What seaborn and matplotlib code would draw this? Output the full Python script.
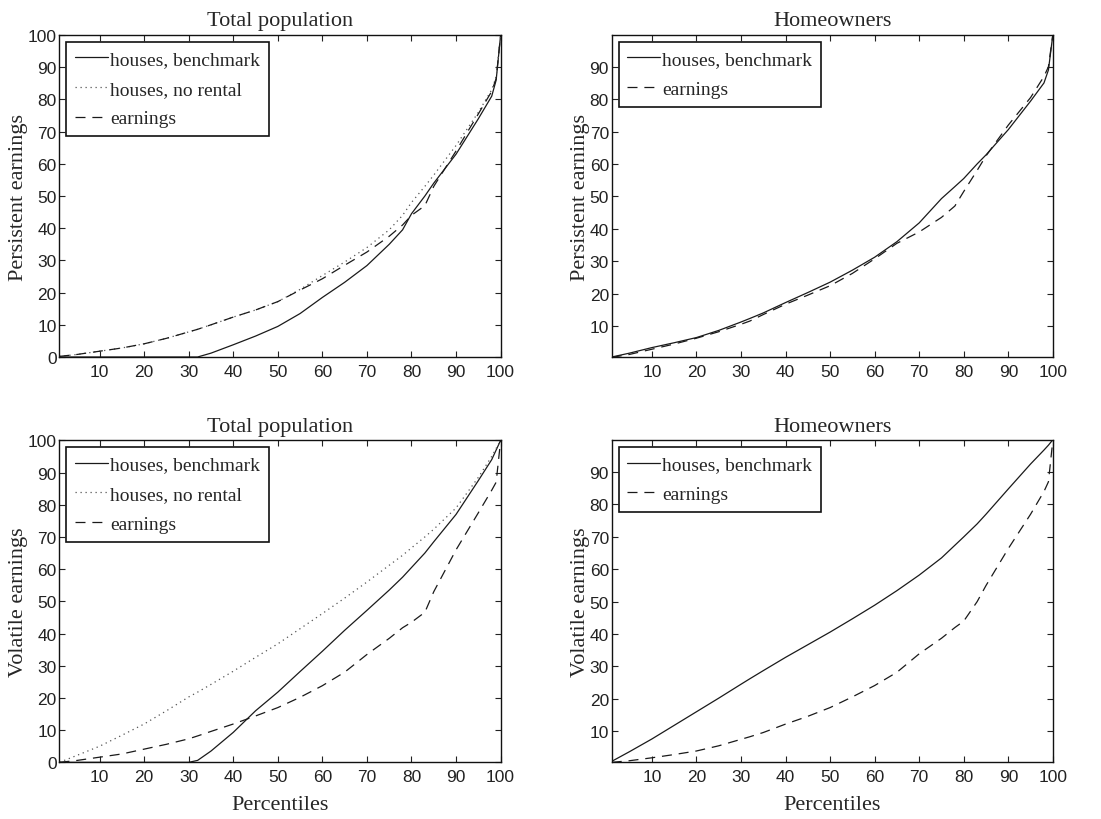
import matplotlib
matplotlib.use("Agg")
import matplotlib.pyplot as plt
import seaborn as sns

# percentile grid shared by all curves
pct = [1, 5, 10, 15, 20, 25, 30, 32, 35, 40, 45, 50, 55, 60, 65, 70,
       75, 78, 80, 83, 85, 90, 95, 98, 99, 100]

# Total population, persistent earnings
tp_pers_bench = [0, 0, 0, 0, 0, 0, 0, 0, 1.2, 3.8, 6.5, 9.5, 13.5, 18.5, 23.2, 28.4,
                 35, 39.5, 44.5, 50, 54, 63, 74, 81, 86, 100]
tp_pers_norent = [0.2, 0.8, 1.8, 2.8, 4.1, 5.8, 7.8, 8.6, 10, 12.4, 14.6, 17.2, 21, 25.3, 29.5, 34,
                  39.5, 44, 48, 53, 56.5, 65.7, 76, 83, 87, 100]
tp_pers_earn = [0.2, 0.8, 1.8, 2.8, 4.1, 5.8, 7.8, 8.6, 10, 12.4, 14.6, 17.2, 20.8, 24.3, 28.5, 32.6,
                37.5, 41, 44, 47, 53, 64, 75.5, 82.5, 86.5, 100]

# Homeowners, persistent earnings
ho_pers_bench = [0.4, 1.6, 3.3, 4.8, 6.4, 8.6, 11.2, 12.3, 14, 17.2, 20.3, 23.5, 27.2, 31.2, 36, 41.8,
                 49.3, 53, 55.5, 60, 62.8, 70.6, 79.4, 85, 89, 100]
ho_pers_earn = [0.3, 1.2, 2.8, 4.4, 6.2, 8.2, 10.5, 11.5, 13.5, 16.7, 19.5, 22.4, 26.2, 30.7, 35.5, 39,
                43.5, 47, 51.5, 58, 62.5, 72, 80.5, 87, 90, 100]

# Total population, volatile earnings
tp_vol_bench = [0, 0, 0, 0, 0, 0, 0, 0.6, 3.5, 9.3, 16, 21.8, 28.2, 34.5, 41, 47.2,
                53.5, 57.5, 60.5, 65, 68.5, 77, 87.5, 94, 97, 100]
tp_vol_norent = [0, 2.2, 5, 8.4, 11.9, 16, 20.3, 21.8, 24.2, 28.3, 32.6, 36.8, 41.5, 46.2, 51, 56,
                 61.2, 64.3, 66.6, 70, 72.4, 79, 88.5, 95, 97.5, 100]
tp_vol_earn = [0, 0.6, 1.6, 2.6, 4.1, 5.6, 7.3, 8.2, 9.6, 11.9, 14.4, 17, 20.2, 23.8, 28, 33.5,
               38.5, 41.8, 43.5, 46.6, 53, 66, 77.5, 84.5, 87, 100]

# Homeowners, volatile earnings
ho_vol_bench = [0.7, 3.7, 7.6, 11.8, 16, 20.2, 24.5, 26.2, 28.7, 32.8, 36.7, 40.6, 44.7, 48.9, 53.4, 58.2,
                63.5, 67.4, 70, 74, 77, 84.8, 92.5, 96.8, 98.3, 100]
ho_vol_earn = [0.4, 0.9, 1.8, 2.8, 3.9, 5.5, 7.5, 8.3, 9.6, 12.2, 14.6, 17.3, 20.6, 24.1, 28.2, 33.9,
               38.7, 42, 44, 50, 55, 66.4, 77, 84, 87, 100]

lbl_bench = "houses, benchmark"
lbl_norent = "houses, no rental"
lbl_earn = "earnings"

xticks = list(range(10, 101, 10))
yticks_full = list(range(0, 101, 10))
yticks_inner = list(range(10, 91, 10))

SERIF = ["Liberation Serif", "DejaVu Serif"]
SANS = ["Liberation Sans", "DejaVu Sans"]

sns.set_style("ticks")
plt.rcParams["font.family"] = SERIF
plt.rcParams["axes.linewidth"] = 1.0

STYLES = {
    "solid": dict(linestyle="-", color="#1a1a1a", linewidth=0.9),
    "dotted": dict(linestyle=(0, (1, 3)), color="#555555", linewidth=0.9),
    "dashed": dict(linestyle=(0, (8, 5.5)), color="#1a1a1a", linewidth=0.9),
}


def draw_panel(ax, curves, title, ylabel, ylim, yticks, xlabel=None):
    for values, label, style in curves:
        sns.lineplot(x=pct, y=values, ax=ax, label=label, errorbar=None,
                     **STYLES[style])
    ax.set_xlim(1, 100)
    ax.set_ylim(*ylim)
    ax.set_xticks(xticks, [str(t) for t in xticks], fontfamily=SANS,
                  fontsize=12.5, color="#222222")
    ax.set_yticks(yticks, [str(t) for t in yticks], fontfamily=SANS,
                  fontsize=12.5, color="#222222")
    ax.tick_params(direction="in", top=True, right=True, length=4,
                   width=0.8, color="#222222")
    ax.tick_params(axis="y", pad=2)
    ax.tick_params(axis="x", pad=5)
    for sp in ax.spines.values():
        sp.set_visible(True)
        sp.set_color("#111111")
    ax.set_title(title, fontsize=16, pad=7)
    ax.set_ylabel(ylabel, fontsize=16, labelpad=0)
    if xlabel:
        ax.set_xlabel(xlabel, fontsize=16, labelpad=8)
    else:
        ax.set_xlabel("")
    leg = ax.legend(loc="upper left", fancybox=False, edgecolor="#111111",
                    framealpha=1, fontsize=14, handlelength=1.7,
                    handletextpad=0.1, borderpad=0.45, labelspacing=0.62,
                    borderaxespad=0.35)
    leg.get_frame().set_linewidth(1.2)


fig = plt.figure(figsize=(11.01, 8.2), dpi=100)
w, h = 0.4007, 0.3927
ax_tl = fig.add_axes([0.054, 0.5634, w, h])
ax_tr = fig.add_axes([0.5556, 0.5634, w, h])
ax_bl = fig.add_axes([0.054, 0.0691, w, h])
ax_br = fig.add_axes([0.5556, 0.0691, w, h])

draw_panel(ax_tl,
           [(tp_pers_bench, lbl_bench, "solid"),
            (tp_pers_norent, lbl_norent, "dotted"),
            (tp_pers_earn, lbl_earn, "dashed")],
           "Total population", "Persistent earnings", (0, 100), yticks_full)
draw_panel(ax_tr,
           [(ho_pers_bench, lbl_bench, "solid"),
            (ho_pers_earn, lbl_earn, "dashed")],
           "Homeowners", "Persistent earnings", (0.4, 99.8), yticks_inner)
draw_panel(ax_bl,
           [(tp_vol_bench, lbl_bench, "solid"),
            (tp_vol_norent, lbl_norent, "dotted"),
            (tp_vol_earn, lbl_earn, "dashed")],
           "Total population", "Volatile earnings", (0, 100), yticks_full,
           xlabel="Percentiles")
draw_panel(ax_br,
           [(ho_vol_bench, lbl_bench, "solid"),
            (ho_vol_earn, lbl_earn, "dashed")],
           "Homeowners", "Volatile earnings", (0.4, 99.8), yticks_inner,
           xlabel="Percentiles")

fig.savefig("out.png", dpi=100)
